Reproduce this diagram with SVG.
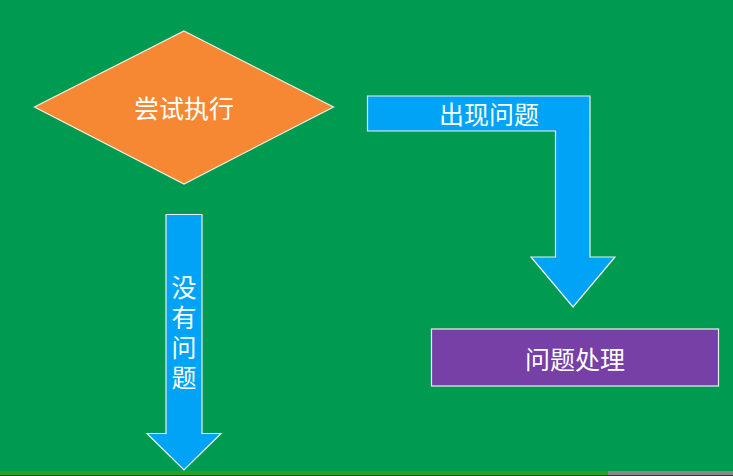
<svg xmlns="http://www.w3.org/2000/svg" width="733" height="476" viewBox="0 0 733 476">
<style>
.lbl{font-family:"Noto Sans CJK SC","Noto Sans CJK JP",sans-serif;font-size:25px;fill:#ffffff;text-anchor:middle;dominant-baseline:central}
.vert{writing-mode:vertical-rl;letter-spacing:5px}
.arrow{fill:#00a3f5;stroke:#e8f4ea;stroke-width:1.2}
</style>
<rect x="0" y="0" width="733" height="476" fill="#009a50"/>
<rect x="0" y="471" width="608" height="4" fill="#2a9e2a"/>
<rect x="608" y="471" width="125" height="4" fill="#888888"/>
<rect x="0" y="475" width="733" height="1" fill="#333333"/>
<g id="connectors">
<g id="arrow-problem">
<path class="arrow" d="M367.5,96 L590,96 L590,257 L615,257 L573,307 L531,257 L555.5,257 L555.5,131 L367.5,131 Z"/>
<text class="lbl" x="489" y="113">出现问题</text>
</g>
<g id="arrow-noproblem">
<path class="arrow" d="M166,214.5 L202,214.5 L202,433.5 L221,433.5 L184,470 L147,433.5 L166,433.5 Z"/>
<text class="lbl vert" x="184" y="335">没有问题</text>
</g>
</g>
<g id="try">
<polygon points="184,31 333.5,107 184,184 34.5,107" fill="#f68833" stroke="#f2efe6" stroke-width="1.2"/>
<text class="lbl" x="184" y="107">尝试执行</text>
</g>
<g id="handle">
<rect x="431.5" y="329" width="287" height="57" fill="#7640a6" stroke="#eef0ee" stroke-width="1.2"/>
<text class="lbl" x="575" y="357.5">问题处理</text>
</g>
</svg>
